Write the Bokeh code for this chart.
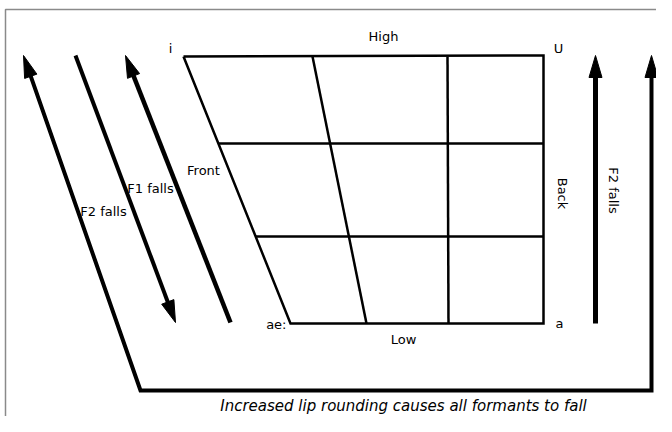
import math
from bokeh.plotting import figure
from bokeh.models import Range1d
from bokeh.core.properties import value
from bokeh.embed import file_html
from bokeh.resources import INLINE

# ---- diagram data (diagram units, y grows downward) ----
# vowel quadrilateral corners: i (high front), U (high back), a (low back), ae (low front)
quad_x = [183, 543, 543, 290, 183]
quad_y = [56, 55, 323, 323, 56]
# height levels (rows) of the grid
row_y = [143, 236]
# inner vertical dividers: top x, bottom x
div_top_x = [312, 447]
div_bot_x = [366, 448]
top_y = 56
bot_y = 323
right_x = 543

# formant arrows
f2_big_x = [23, 140, 651, 651]
f2_big_y = [55, 390, 390, 55]
f1_down_x = [75, 175]
f1_down_y = [55, 322]
f1_up_x = [230, 125]
f1_up_y = [322, 55]
f2_right_x = [595, 595]
f2_right_y = [323, 55]

# frame
frame_x = [5, 5, 680]
frame_y = [440, 9, 9]

# labels
lab_text = ["i", "High", "U", "Front", "F1 falls", "F2 falls", "ae:", "a", "Low"]
lab_x = [170, 383, 558, 203, 150, 103, 286, 559, 403]
lab_y = [48, 36, 48, 170, 188, 211, 324, 323, 339]
lab_align = ["center", "center", "center", "center", "center", "center", "right", "center", "center"]
rot_text = ["Back", "F2 falls"]
rot_x = [562, 613]
rot_y = [193, 190]
caption = "Increased lip rounding causes all formants to fall"
caption_x = 403
caption_y = 405

FONT = "DejaVu Sans"

p = figure(width=656, height=416, x_range=Range1d(0, 656), y_range=Range1d(416, 0),
           output_backend="svg", toolbar_location=None, min_border=0)
p.axis.visible = False
p.grid.visible = False
p.outline_line_color = None
p.background_fill_color = "white"

# frame
p.line(frame_x, frame_y, line_color="#8a8a8a", line_width=1.5)

# quadrilateral
p.line(quad_x, quad_y, line_color="black", line_width=2.5, line_join="miter")
# rows: left end lies on the front edge
x0, y0, x1, y1 = quad_x[0], quad_y[0], quad_x[3], quad_y[3]
for ry in row_y:
    lx = x0 + (x1 - x0) * (ry - y0) / (y1 - y0)
    p.line([lx, right_x], [ry, ry], line_color="black", line_width=2.5)
for tx, bx in zip(div_top_x, div_bot_x):
    p.line([tx, bx], [top_y, bot_y], line_color="black", line_width=2.5)


def head(xs, ys, length=22, half=6.5):
    tx, ty = xs[-1], ys[-1]
    px, py = xs[-2], ys[-2]
    d = math.hypot(tx - px, ty - py)
    ux, uy = (tx - px) / d, (ty - py) / d
    bx, by = tx - ux * length, ty - uy * length
    nx, ny = -uy, ux
    return [tx, bx + nx * half, bx - nx * half], [ty, by + ny * half, by - ny * half], (bx + ux * 3, by + uy * 3)


def arrow(xs, ys, width, both=False):
    hx, hy, base = head(xs, ys)
    lx = list(xs[:-1]) + [base[0]]
    ly = list(ys[:-1]) + [base[1]]
    heads_x, heads_y = [hx], [hy]
    if both:
        hx2, hy2, base2 = head(xs[::-1], ys[::-1])
        lx[0], ly[0] = base2
        heads_x.append(hx2)
        heads_y.append(hy2)
    p.line(lx, ly, line_color="black", line_width=width, line_join="miter")
    p.patches(heads_x, heads_y, fill_color="black", line_color="black", line_width=1)


arrow(f2_big_x, f2_big_y, 4, both=True)
arrow(f1_down_x, f1_down_y, 4)
arrow(f1_up_x, f1_up_y, 4.5)
arrow(f2_right_x, f2_right_y, 5)

# labels
p.text(lab_x, lab_y, text=lab_text, text_align=lab_align, text_baseline="middle",
       text_font=value(FONT), text_font_size="13px", text_color="black")
p.text(rot_x, rot_y, text=rot_text, angle=-math.pi / 2, text_align="center", text_baseline="middle",
       text_font=value(FONT), text_font_size="13px", text_color="black")
p.text([caption_x], [caption_y], text=[caption], text_align="center", text_baseline="middle",
       text_font=value(FONT), text_font_size="15px", text_font_style="italic", text_color="black")

open("out.html", "w").write(file_html(p, INLINE))
